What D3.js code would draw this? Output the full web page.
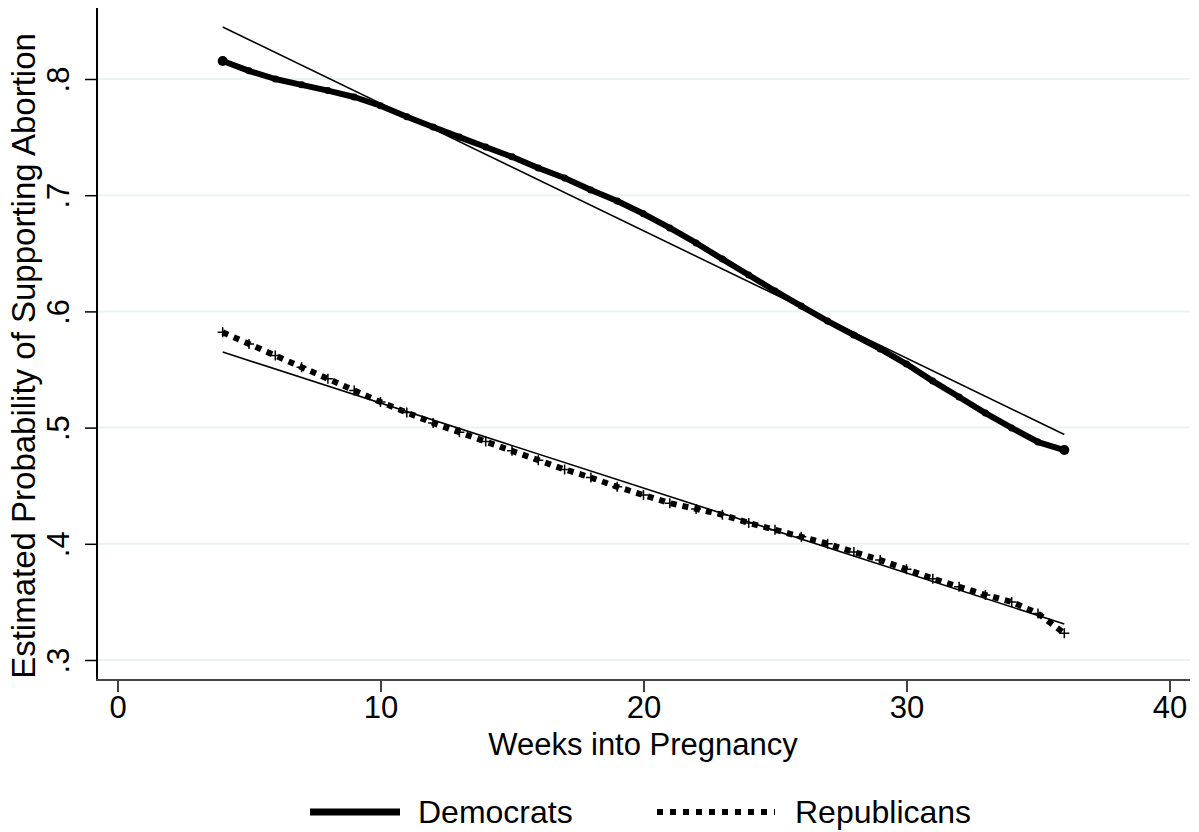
<!DOCTYPE html>
<html>
<head>
<meta charset="utf-8">
<script src="https://cdn.jsdelivr.net/npm/d3@7"></script>
<style>
body { margin:0; background:#fff; }
text { font-family: "Liberation Sans", Arial, sans-serif; fill:#000; }
</style>
</head>
<body>
<script>
// data
var weeks = d3.range(4, 37);
var democrats = [0.8155,0.807,0.800,0.795,0.790,0.7845,0.777,0.7675,0.7587,0.750,0.7415,
                 0.733,0.7234,0.7148,0.7045,0.695,0.684,0.6718,0.6589,0.645,0.6313,0.6176,
                 0.6046,0.5917,0.5797,0.5677,0.5547,0.540,0.5263,0.5125,0.4997,0.4876,0.4807];
var republicans = [0.582,0.572,0.562,0.552,0.542,0.532,0.522,0.513,0.504,0.496,0.488,
                   0.480,0.472,0.464,0.457,0.449,0.442,0.435,0.430,0.425,0.418,0.412,
                   0.406,0.400,0.393,0.386,0.378,0.370,0.363,0.356,0.350,0.340,0.323];
var fitWeeks = [4, 36];
var demFit = [0.8448, 0.4940];
var repFit = [0.565, 0.331];
var xTicks = [0, 10, 20, 30, 40];
var yTicks = [0.3, 0.4, 0.5, 0.6, 0.7, 0.8];
var yTickLabels = ['.3', '.4', '.5', '.6', '.7', '.8'];

var svgWidth = 1199, svgHeight = 832;
var svg = d3.select('body').append('svg')
    .attr('width', svgWidth).attr('height', svgHeight);

var xScale = d3.scaleLinear().domain([0, 40]).range([117.5, 1169.5]);
var yScale = d3.scaleLinear().domain([0.3, 0.8]).range([660, 79]);
var plotLeft = 97, plotRight = 1190, plotTop = 8, plotBottom = 680;

// gridlines
svg.append('g').selectAll('line')
    .data(yTicks).enter().append('line')
    .attr('x1', plotLeft).attr('x2', plotRight)
    .attr('y1', function(d){ return yScale(d); })
    .attr('y2', function(d){ return yScale(d); })
    .attr('stroke', '#eaf2f3').attr('stroke-width', 2);

// y axis
var leftAxis = d3.axisLeft(yScale).tickValues(yTicks)
    .tickFormat(function(d, i){ return yTickLabels[i]; })
    .tickSize(12).tickPadding(0);
var gy = svg.append('g').attr('transform', 'translate(' + plotLeft + ',0)').call(leftAxis);
gy.select('.domain').remove();
gy.selectAll('.tick line').attr('stroke', '#000').attr('stroke-width', 1.5);
gy.selectAll('.tick text')
    .attr('x', null).attr('dy', null)
    .attr('transform', 'translate(-28,0) rotate(-90)')
    .attr('text-anchor', 'middle')
    .style('font-size', '31px').style('font-family', '"Liberation Sans", Arial, sans-serif');
svg.append('line')
    .attr('x1', plotLeft).attr('x2', plotLeft)
    .attr('y1', plotTop).attr('y2', plotBottom)
    .attr('stroke', '#000').attr('stroke-width', 2);

// x axis
var bottomAxis = d3.axisBottom(xScale).tickValues(xTicks)
    .tickFormat(d3.format('d')).tickSize(12).tickPadding(4);
var gx = svg.append('g').attr('transform', 'translate(0,' + plotBottom + ')').call(bottomAxis);
gx.select('.domain').remove();
gx.selectAll('.tick line').attr('stroke', '#000').attr('stroke-width', 1.5);
gx.selectAll('.tick text')
    .style('font-size', '31px').style('font-family', '"Liberation Sans", Arial, sans-serif');
svg.append('line')
    .attr('x1', plotLeft - 1).attr('x2', plotRight)
    .attr('y1', plotBottom).attr('y2', plotBottom)
    .attr('stroke', '#444').attr('stroke-width', 2);

// axis titles
svg.append('text')
    .attr('x', 643).attr('y', 755)
    .attr('text-anchor', 'middle')
    .style('font-size', '31px')
    .text('Weeks into Pregnancy');
svg.append('text')
    .attr('transform', 'translate(35,356) rotate(-90)')
    .attr('text-anchor', 'middle')
    .style('font-size', '33px')
    .text('Estimated Probability of Supporting Abortion');

var line = d3.line()
    .x(function(d){ return xScale(d[0]); })
    .y(function(d){ return yScale(d[1]); });

// fitted lines
svg.append('path')
    .datum(d3.zip(fitWeeks, demFit))
    .attr('d', line).attr('fill', 'none')
    .attr('stroke', '#000').attr('stroke-width', 1.6);
svg.append('path')
    .datum(d3.zip(fitWeeks, repFit))
    .attr('d', line).attr('fill', 'none')
    .attr('stroke', '#000').attr('stroke-width', 1.6);

// democrats
var demData = d3.zip(weeks, democrats);
svg.append('path')
    .datum(demData)
    .attr('d', line).attr('fill', 'none')
    .attr('stroke', '#000').attr('stroke-width', 6)
    .attr('stroke-linejoin', 'round');
svg.append('g').selectAll('circle')
    .data(demData).enter().append('circle')
    .attr('cx', function(d){ return xScale(d[0]); })
    .attr('cy', function(d){ return yScale(d[1]); })
    .attr('r', function(d, i){ return (i === 0 || i === demData.length - 1) ? 5 : 3.5; })
    .attr('fill', '#000');

// republicans
var repData = d3.zip(weeks, republicans);
svg.append('path')
    .datum(repData)
    .attr('d', line).attr('fill', 'none')
    .attr('stroke', '#000').attr('stroke-width', 6)
    .attr('stroke-dasharray', '6,6');
svg.append('g').selectAll('path')
    .data(repData).enter().append('path')
    .attr('d', 'M-5,0H5M0,-5V5')
    .attr('transform', function(d){ return 'translate(' + xScale(d[0]) + ',' + yScale(d[1]) + ')'; })
    .attr('fill', 'none').attr('stroke', '#000').attr('stroke-width', 1.5);

// legend
var legend = svg.append('g');
legend.append('line')
    .attr('x1', 310).attr('x2', 400).attr('y1', 812).attr('y2', 812)
    .attr('stroke', '#000').attr('stroke-width', 7);
legend.append('text')
    .attr('x', 418).attr('y', 823)
    .style('font-size', '32px')
    .text('Democrats');
legend.append('line')
    .attr('x1', 657).attr('x2', 775).attr('y1', 812).attr('y2', 812)
    .attr('stroke', '#000').attr('stroke-width', 6)
    .attr('stroke-dasharray', '6,7');
legend.append('text')
    .attr('x', 795).attr('y', 823)
    .style('font-size', '32px')
    .text('Republicans');
</script>
</body>
</html>
